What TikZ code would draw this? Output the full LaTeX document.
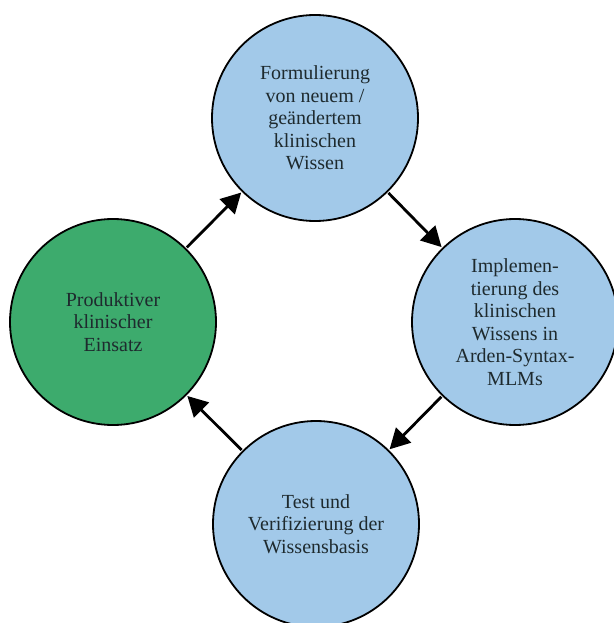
\documentclass[tikz,border=0pt]{standalone}
\usepackage{fontspec}
\setmainfont{Liberation Serif}
\usetikzlibrary{arrows.meta}
\definecolor{cblue}{HTML}{A2C9E9}
\definecolor{cgreen}{HTML}{3DAB6D}
\definecolor{ctext}{HTML}{1E2A2E}
\begin{document}
\begin{tikzpicture}[x=1pt,y=-1pt,
  stage/.style={circle, draw=black, line width=1.8pt, minimum size=206pt, inner sep=0pt,
    align=center, text=ctext, font=\fontsize{20}{22.5}\selectfont},
  flow/.style={line width=2.8pt, -{Triangle[length=20pt,width=21pt]}, shorten >=1pt, shorten <=1pt}]
\useasboundingbox (0,0) rectangle (613,623);
\fill[white] (0,0) rectangle (613,623);
\node[stage, fill=cblue] (top) at (315,118) {Formulierung\\von neuem /\\geändertem\\klinischen\\Wissen};
\node[stage, fill=cblue] (right) at (515,322) {Implemen-\\tierung des\\klinischen\\Wissens in\\Arden-Syntax-\\MLMs};
\node[stage, fill=cblue] (bottom) at (316,524) {Test und\\Verifizierung der\\Wissensbasis};
\node[stage, fill=cgreen] (left) at (113,322) {Produktiver\\klinischer\\Einsatz};
\draw[flow] (left) -- (top);
\draw[flow] (top) -- (right);
\draw[flow] (right) -- (bottom);
\draw[flow] (bottom) -- (left);
\end{tikzpicture}
\end{document}
